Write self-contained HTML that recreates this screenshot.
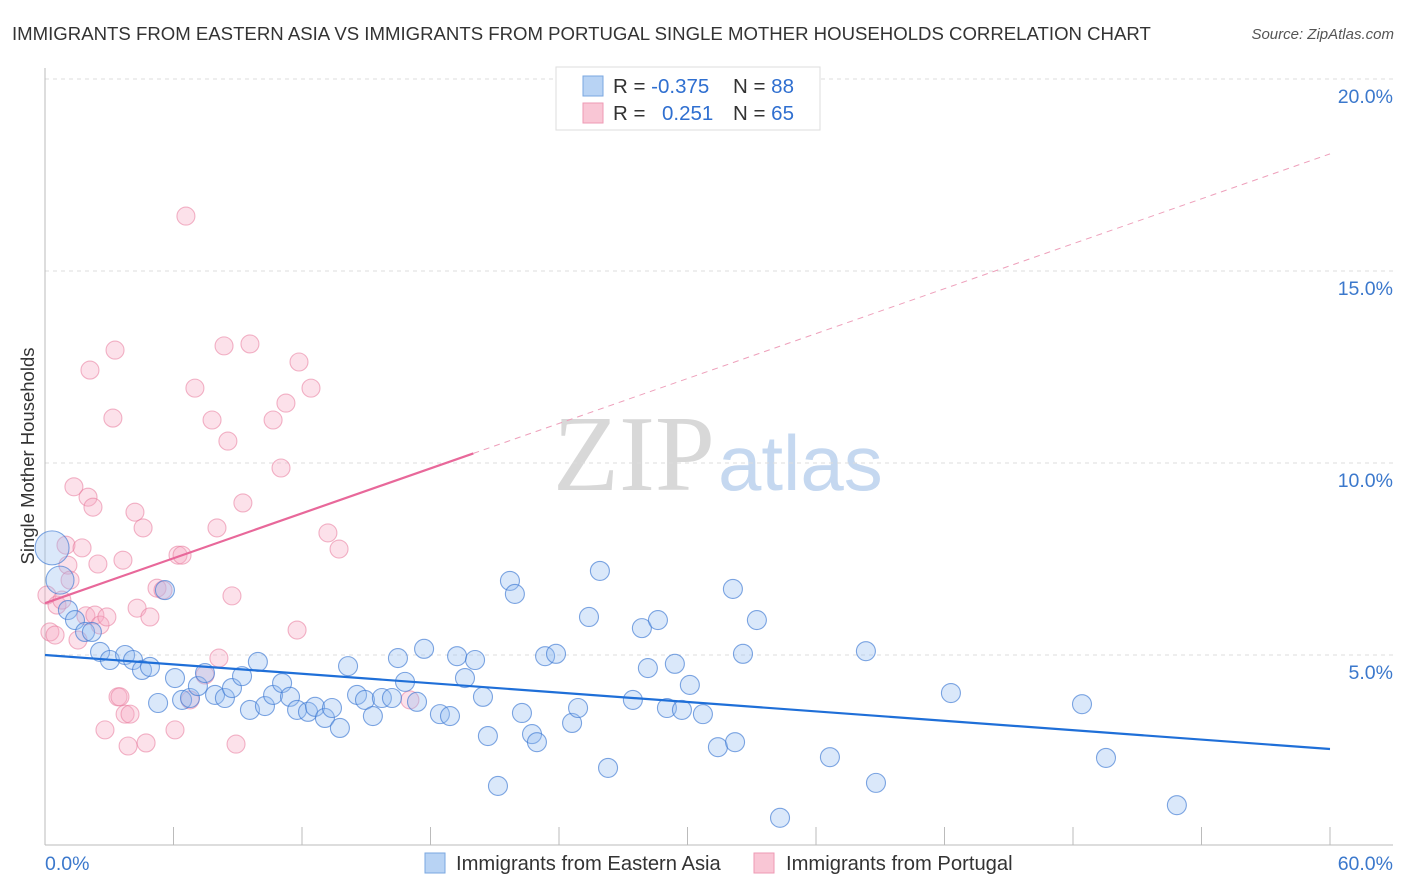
<!DOCTYPE html>
<html><head><meta charset="utf-8"><style>
body{margin:0;background:#fff;font-family:"Liberation Sans",sans-serif;}
svg{display:block}
</style></head><body>
<svg id="chart" width="1406" height="892">
<text x="12" y="40" font-size="18.6" fill="#333">IMMIGRANTS FROM EASTERN ASIA VS IMMIGRANTS FROM PORTUGAL SINGLE MOTHER HOUSEHOLDS CORRELATION CHART</text>
<text x="1394" y="39" font-size="15" fill="#555" font-style="italic" text-anchor="end">Source: ZipAtlas.com</text>
<g>
<text x="553" y="490" font-size="108" font-family="Liberation Serif,serif" fill="#d8d8d8">ZIP</text>
<text x="718" y="490" font-size="78" fill="#c5d8f0">atlas</text>
</g>
<g id="grid"></g>
<g id="marks"></g>
<text transform="translate(34,456) rotate(-90)" font-size="18.5" fill="#333" text-anchor="middle">Single Mother Households</text>
<g>
<rect x="556" y="67" width="264" height="63" fill="#fff" stroke="#ddd"/>
<rect x="583" y="76" width="20" height="20" fill="#b8d3f4" stroke="#7aa7e0"/>
<rect x="583" y="103" width="20" height="20" fill="#f9c6d5" stroke="#ee9ab4"/>
<text x="613" y="93" font-size="20.5" fill="#333">R = <tspan fill="#2f6fd0">-0.375</tspan><tspan x="733">N = </tspan><tspan fill="#2f6fd0">88</tspan></text>
<text x="613" y="120" font-size="20.5" fill="#333">R = <tspan x="662" fill="#2f6fd0">0.251</tspan><tspan x="733">N = </tspan><tspan fill="#2f6fd0">65</tspan></text>
</g>
<g>
<rect x="425" y="853" width="20" height="20" fill="#b8d3f4" stroke="#7aa7e0"/>
<text x="456" y="870" font-size="20.2" fill="#333">Immigrants from Eastern Asia</text>
<rect x="754" y="853" width="20" height="20" fill="#f9c6d5" stroke="#ee9ab4"/>
<text x="786" y="870" font-size="20.2" fill="#333">Immigrants from Portugal</text>
</g>
</svg>
<script>
const blueX=[0.33,0.70,1.07,1.40,1.87,2.19,2.57,3.03,3.74,4.11,4.53,4.90,5.28,5.60,6.07,6.40,6.77,7.14,7.47,7.94,8.40,8.73,9.20,9.57,9.94,10.27,10.65,11.07,11.44,11.77,12.28,12.61,13.07,13.40,13.77,14.15,14.57,14.94,15.31,15.73,16.20,16.48,16.81,17.37,17.70,18.44,18.91,19.24,19.61,20.08,20.45,20.68,21.15,21.71,21.94,22.27,22.74,22.97,23.35,23.86,24.61,24.89,25.40,25.91,26.29,27.45,27.87,28.15,28.62,29.04,29.41,29.74,30.11,30.72,31.42,32.22,32.12,32.59,33.24,34.32,36.65,38.33,38.80,42.30,48.42,49.54,52.85];
const blueY=[7.79,6.95,6.17,5.91,5.60,5.60,5.08,4.87,5.00,4.87,4.61,4.69,3.75,6.69,4.40,3.83,3.88,4.19,4.53,3.96,3.88,4.14,4.45,3.57,4.82,3.67,3.96,4.27,3.91,3.57,3.52,3.65,3.36,3.62,3.10,4.71,3.96,3.83,3.41,3.88,3.88,4.92,4.30,3.78,5.16,3.46,3.41,4.97,4.40,4.87,3.91,2.89,1.59,6.93,6.59,3.49,2.94,2.73,4.97,5.03,3.23,3.62,5.99,7.19,2.06,3.83,5.70,4.66,5.91,3.62,4.77,3.57,4.22,3.46,2.60,2.73,6.72,5.03,5.91,0.76,2.34,5.10,1.67,4.01,3.72,2.32,1.09];
const blueWeight=[3,2];
const pinkX=[0.09,0.23,0.47,0.56,0.79,0.98,1.07,1.17,1.35,1.54,1.73,1.91,2.01,2.10,2.24,2.33,2.47,2.57,2.80,2.89,3.17,3.27,3.41,3.50,3.64,3.74,3.88,3.97,4.20,4.30,4.58,4.72,4.90,5.23,5.51,6.07,6.21,6.40,6.58,6.77,7.00,7.47,7.80,8.03,8.12,8.36,8.54,8.73,8.92,9.24,9.57,10.65,11.02,11.25,11.77,11.86,12.42,13.21,13.73,17.04];
const pinkY=[6.56,5.60,5.52,6.30,6.43,7.86,7.34,6.95,9.38,5.39,7.79,6.02,9.11,12.42,8.85,6.04,7.37,5.78,3.05,5.99,11.17,12.94,3.91,3.91,7.47,3.46,2.63,3.46,8.72,6.22,8.31,2.71,5.99,6.74,6.69,3.05,7.60,7.60,16.43,3.83,11.95,4.48,11.12,8.31,4.92,13.05,10.57,6.54,2.68,8.96,13.10,11.12,9.87,11.56,5.65,12.63,11.95,8.18,7.76,3.83];
const blueTrend=[5.0,-0.0408];
const pinkTrend=[6.35,0.195,20.0];
const yTicks=[5,10,15,20];
const yTickLabels=["5.0%","10.0%","15.0%","20.0%"];
const xTicks=[0,6,12,18,24,30,36,42,48,54,60];

const NS="http://www.w3.org/2000/svg";
const sx=v=>45+v*(1285/60);
const sy=v=>847-v*38.4;
function mk(tag,attrs,parent){const e=document.createElementNS(NS,tag);for(const k in attrs)e.setAttribute(k,attrs[k]);parent.appendChild(e);return e;}
const grid=document.getElementById('grid'), marks=document.getElementById('marks');
yTicks.forEach((t,i)=>{
 const l=mk('line',{x1:45,x2:1393,y1:sy(t),y2:sy(t),stroke:'#ddd','stroke-dasharray':'4,4'},grid);
 
 
 const tx=mk('text',{x:1393,y:sy(t)+24,'font-size':19.5,fill:'#3b78cc','text-anchor':'end'},grid);
 tx.textContent=yTickLabels[i];
 
 
});
const ya=mk('line',{x1:45,x2:45,y1:68,y2:845,stroke:'#bbb'},grid);


const xa=mk('line',{x1:45,x2:1393,y1:845,y2:845,stroke:'#bbb'},grid);


xTicks.forEach(t=>{
 const l=mk('line',{x1:sx(t),x2:sx(t),y1:827,y2:845,stroke:'#bbb'},grid);
 
 
});
const xl0=mk('text',{x:45,y:870,'font-size':19.5,fill:'#3b78cc'},grid);xl0.textContent=xTicks[0].toFixed(1)+'%';


const xl1=mk('text',{x:1393,y:870,'font-size':19.5,fill:'#3b78cc','text-anchor':'end'},grid);xl1.textContent=xTicks[xTicks.length-1].toFixed(1)+'%';



pinkX.forEach((x,i)=>{
 const c=mk('circle',{cx:sx(x),cy:sy(pinkY[i]),r:9,fill:'rgba(246,170,195,0.35)',stroke:'rgba(232,120,155,0.55)','stroke-width':1.1},marks);
 
 
});
blueX.forEach((x,i)=>{
 const w=blueWeight[i]||1;
 const r=w===3?17:w===2?14:9.5;
 const c=mk('circle',{cx:sx(x),cy:sy(blueY[i]),r:r,fill:'rgba(150,190,240,0.35)',stroke:'rgba(60,120,210,0.65)','stroke-width':1.1},marks);
 
 
});
const bl=mk('line',{x1:sx(0),y1:sy(blueTrend[0]),x2:sx(60),y2:sy(blueTrend[0]+blueTrend[1]*60),stroke:'#1f6fd8','stroke-width':2.2},marks);


const pe=pinkTrend[2];
const pl=mk('line',{x1:sx(0),y1:sy(pinkTrend[0]),x2:sx(pe),y2:sy(pinkTrend[0]+pinkTrend[1]*pe),stroke:'#e8689a','stroke-width':2.2},marks);


const pd=mk('line',{x1:sx(pe),y1:sy(pinkTrend[0]+pinkTrend[1]*pe),x2:sx(60),y2:sy(pinkTrend[0]+pinkTrend[1]*60),stroke:'#eea0bb','stroke-width':1,'stroke-dasharray':'6,5'},marks);


</script>
</body></html>
